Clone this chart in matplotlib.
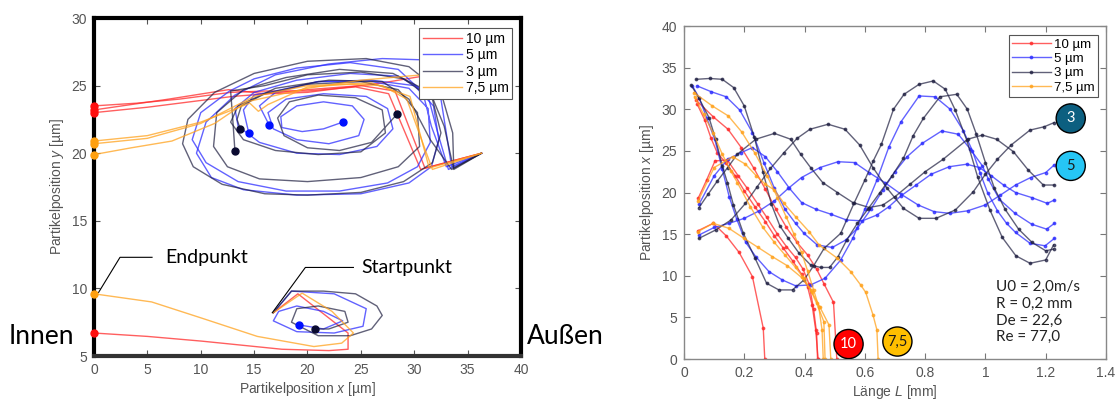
import matplotlib
matplotlib.use("Agg")
import matplotlib.pyplot as plt

plt.rcParams['font.family'] = ['Liberation Sans', 'DejaVu Sans']
plt.rcParams['mathtext.fontset'] = 'custom'
plt.rcParams['mathtext.it'] = 'Liberation Sans:italic'
plt.rcParams['mathtext.rm'] = 'Liberation Sans'

# ---------------- linke Grafik: Querschnitt (x, y) ----------------
# 10 µm (rot)
lr1_x = [36.3, 30.6, 27.6, 24.5, 20.0, 16.1, 12.8, 8.0, 4.0, 0.0]
lr1_y = [20.0, 18.8, 24.4, 24.9, 24.6, 24.6, 24.5, 24.0, 23.7, 23.5]
lr2_x = [36.3, 31.0, 28.2, 25.0, 20.0, 16.0, 12.6, 7.0, 0.0]
lr2_y = [20.0, 18.9, 24.6, 25.0, 24.7, 24.4, 24.7, 24.0, 23.2]
lr3_x = [34.5, 30.8, 27.0, 24.0, 20.0, 16.3, 13.0, 9.0, 5.0, 0.0]
lr3_y = [25.8, 25.7, 25.2, 24.9, 24.5, 24.4, 24.2, 23.8, 23.4, 23.0]
lr4_x = [16.8, 19.1, 23.8, 23.8, 22.0, 17.6, 10.1, 5.0, 0.0]
lr4_y = [8.2, 9.6, 6.7, 5.5, 5.4, 5.5, 6.1, 6.45, 6.7]

# 7,5 µm (orange)
lo1_x = [36.3, 31.7, 29.3, 27.0, 24.0, 20.0, 16.3, 15.4, 14.6, 10.0, 5.0, 0.0]
lo1_y = [20.0, 18.8, 24.0, 25.0, 25.1, 24.9, 23.6, 23.1, 23.7, 22.3, 21.3, 20.9]
lo2_x = [36.3, 31.4, 29.6, 26.0, 20.0, 15.0, 10.0, 5.0, 0.0]
lo2_y = [20.0, 18.9, 24.2, 25.2, 25.0, 24.2, 22.2, 21.1, 20.7]
lo3_x = [34.5, 30.8, 25.0, 20.0, 14.3, 11.3, 7.3, 3.5, 0.0]
lo3_y = [25.9, 25.8, 25.4, 24.8, 23.8, 22.2, 20.9, 20.4, 19.9]
lo4_x = [16.8, 19.5, 22.3, 24.3, 23.2, 20.6, 15.3, 10.1, 5.4, 0.0]
lo4_y = [8.2, 9.65, 8.3, 6.7, 5.95, 5.7, 6.45, 7.8, 9.0, 9.6]

# 3 µm (dunkel)
ld1_x = [36.3, 33.7, 33.6, 32.5, 29.5, 25.5, 20.0, 15.0, 11.3, 8.8, 8.3, 9.3, 12.0, 16.0, 20.0, 25.0,
         29.0, 31.7, 32.5, 31.7, 29.0, 25.0, 20.0, 16.0, 12.8, 13.0, 13.2]
ld1_y = [20.0, 18.9, 21.5, 24.5, 26.4, 27.0, 26.8, 25.9, 24.5, 22.5, 20.7, 19.0, 17.7, 17.0, 16.9, 17.1,
         17.9, 19.3, 21.5, 24.0, 25.5, 26.0, 25.8, 25.0, 24.6, 22.5, 20.2]
ld2_x = [36.3, 33.7, 32.8, 31.5, 28.0, 23.0, 18.0, 14.0, 11.5, 11.2, 12.5, 15.5, 20.0, 25.0, 28.5,
         30.5, 30.3, 28.5, 25.0, 20.0, 16.0, 13.8, 13.4, 13.7]
ld2_y = [20.0, 18.8, 22.0, 24.5, 25.9, 26.2, 25.6, 24.7, 23.0, 20.5, 19.0, 18.1, 17.9, 18.2, 19.0,
         20.5, 23.0, 24.7, 25.3, 25.1, 24.4, 23.5, 22.5, 21.8]
ld3_x = [36.3, 33.5, 31.5, 29.5, 27.0, 22.0, 17.0, 13.5, 12.8, 14.0, 17.0, 21.0, 25.0, 27.3, 27.0,
         24.5, 21.0, 18.3, 17.2, 17.8, 20.0, 23.0, 26.0, 28.4]
ld3_y = [20.0, 18.8, 21.0, 24.0, 25.3, 25.4, 24.8, 23.5, 22.3, 21.0, 20.2, 19.9, 20.1, 21.5, 23.2,
         24.1, 24.3, 23.8, 22.6, 21.3, 20.4, 20.2, 20.8, 22.9]
ld4_x = [16.8, 18.5, 21.5, 24.5, 26.5, 27.0, 26.0, 24.0, 21.0, 18.5, 19.0, 21.0, 23.5, 23.8, 22.0, 20.7]
ld4_y = [8.2, 9.8, 9.8, 9.6, 8.7, 8.0, 7.0, 6.5, 6.5, 7.5, 8.5, 8.7, 8.3, 7.5, 7.0, 7.0]

# 5 µm (blau)
lb1_x = [36.3, 33.2, 32.2, 31.2, 28.5, 24.0, 19.0, 15.0, 13.2, 13.5, 15.5, 19.0, 23.0, 26.5, 28.0,
         27.5, 25.5, 21.5, 18.0, 16.3, 16.8, 19.0, 22.0, 24.8, 25.3, 24.2, 21.5, 19.0, 17.5, 17.6,
         19.5, 21.5, 23.3]
lb1_y = [20.0, 18.8, 21.5, 24.5, 25.7, 25.9, 25.4, 24.5, 23.3, 22.0, 20.8, 20.0, 19.9, 20.5, 21.8,
         23.3, 24.2, 24.4, 24.0, 23.0, 21.8, 21.0, 20.7, 21.3, 22.5, 23.5, 23.8, 23.5, 22.7, 21.9,
         21.6, 21.8, 22.3]
lb2_x = [36.3, 33.0, 31.6, 30.8, 28.5, 24.0, 19.0, 15.0, 12.7, 10.0, 9.2, 10.5, 13.5, 18.0, 23.0,
         27.5, 30.3, 31.5, 31.3, 29.5, 26.0, 21.0, 17.0, 15.5, 16.4]
lb2_y = [20.0, 19.0, 22.0, 24.5, 26.2, 26.7, 26.3, 25.5, 24.6, 23.0, 21.0, 19.3, 17.9, 17.2, 17.2,
         17.8, 19.0, 20.8, 23.3, 24.8, 25.3, 25.3, 24.5, 23.5, 22.1]
lb3_x = [36.3, 33.5, 33.0, 32.4, 31.0, 27.0, 22.0, 17.0, 13.2, 10.5, 9.6, 11.0, 14.0, 19.0, 25.0,
         29.5, 31.6, 32.3, 31.8, 30.0, 26.0, 21.0, 17.0, 15.0, 14.0, 14.5]
lb3_y = [20.0, 19.0, 21.5, 24.5, 26.9, 27.0, 26.6, 25.8, 24.3, 22.3, 20.0, 18.2, 17.3, 16.9, 17.0,
         17.8, 19.0, 21.0, 23.5, 25.0, 25.4, 25.3, 24.6, 24.3, 23.2, 21.5]
lb4_x = [16.8, 18.5, 22.5, 25.5, 25.2, 22.5, 19.0, 16.8, 17.3, 19.0, 21.5, 23.3, 21.5, 19.2]
lb4_y = [8.2, 9.8, 9.6, 8.5, 7.2, 6.7, 6.8, 7.6, 8.3, 8.7, 8.3, 7.6, 7.0, 7.3]

# Endpunkte
end_red_x = [0, 0, 0, 0]
end_red_y = [23.5, 23.2, 23.0, 6.7]
end_orange_x = [0, 0, 0, 0]
end_orange_y = [20.9, 20.7, 19.9, 9.6]
end_dark_x = [13.7, 13.2, 28.4, 20.7]
end_dark_y = [21.8, 20.2, 22.9, 7.0]
end_blue_x = [14.5, 16.4, 23.3, 19.2]
end_blue_y = [21.5, 22.1, 22.3, 7.3]

# ---------------- rechte Grafik: x über L ----------------
r1_L = [0.04, 0.097, 0.146, 0.19, 0.232, 0.27, 0.305, 0.34, 0.375, 0.41, 0.44, 0.465, 0.496, 0.507]
r1_x = [31.1, 29.1, 27.6, 25.4, 22.9, 20.4, 18.0, 15.8, 14.0, 12.5, 10.8, 9.0, 6.8, 0.0]
r2_L = [0.044, 0.069, 0.09, 0.11, 0.14, 0.17, 0.2, 0.235, 0.27, 0.3, 0.33, 0.36, 0.39, 0.41, 0.425, 0.437, 0.445]
r2_x = [30.6, 28.7, 26.5, 24.8, 23.5, 22.0, 20.2, 18.3, 16.5, 14.8, 13.3, 11.8, 10.2, 8.7, 6.5, 3.5, 0.0]
r3_L = [0.047, 0.075, 0.103, 0.144, 0.18, 0.21, 0.245, 0.275, 0.31, 0.34, 0.37, 0.395, 0.415, 0.43, 0.44, 0.443]
r3_x = [19.3, 21.5, 23.8, 23.9, 22.0, 20.5, 18.6, 17.0, 15.0, 13.5, 12.2, 10.8, 9.0, 6.0, 3.1, 0.0]
r4_L = [0.046, 0.097, 0.14, 0.183, 0.227, 0.263, 0.268]
r4_x = [15.4, 16.3, 14.8, 12.8, 9.9, 3.7, 0.0]

o1_L = [0.033, 0.094, 0.147, 0.191, 0.234, 0.276, 0.31, 0.34, 0.365, 0.39, 0.41, 0.43, 0.447, 0.458, 0.462]
o1_x = [32.0, 30.4, 29.2, 27.3, 24.8, 22.0, 19.4, 17.0, 15.0, 12.8, 10.6, 8.3, 6.3, 3.5, 0.0]
o2_L = [0.035, 0.065, 0.096, 0.127, 0.155, 0.177, 0.22, 0.262, 0.3, 0.335, 0.37, 0.398, 0.425, 0.45, 0.481, 0.487]
o2_x = [31.5, 29.4, 27.2, 24.6, 22.6, 21.2, 18.3, 15.8, 14.0, 12.5, 11.0, 9.7, 8.0, 6.3, 4.1, 0.0]
o3_L = [0.047, 0.1, 0.162, 0.204, 0.24, 0.27, 0.3, 0.332, 0.37, 0.415, 0.448, 0.509, 0.553, 0.586, 0.603, 0.627, 0.64, 0.644]
o3_x = [19.0, 23.0, 24.3, 23.4, 22.0, 21.0, 20.3, 18.7, 17.1, 15.3, 13.7, 12.1, 10.5, 8.9, 8.0, 5.3, 3.5, 0.0]
o4_L = [0.046, 0.097, 0.149, 0.199, 0.246, 0.293, 0.343, 0.39, 0.42, 0.44, 0.464, 0.468]
o4_x = [15.3, 16.3, 15.7, 14.5, 13.4, 12.3, 11.2, 9.8, 8.3, 6.7, 4.5, 0.0]

b1_L = [0.044, 0.091, 0.14, 0.185, 0.227, 0.265, 0.3, 0.335, 0.37, 0.398, 0.442, 0.492, 0.537, 0.575,
        0.62, 0.66, 0.7, 0.74, 0.79, 0.855, 0.91, 0.95, 0.99, 1.01, 1.046, 1.098, 1.153, 1.203, 1.229]
b1_x = [32.8, 32.1, 31.5, 29.9, 27.2, 23.6, 20.5, 18.0, 16.3, 15.1, 13.7, 13.4, 14.3, 15.7,
        18.0, 20.3, 22.5, 24.3, 25.9, 27.4, 27.0, 25.2, 23.2, 21.6, 19.2, 17.5, 16.2, 15.6, 16.3]
b2_L = [0.028, 0.05, 0.075, 0.102, 0.127, 0.15, 0.175, 0.205, 0.238, 0.282, 0.326, 0.37, 0.42, 0.468,
        0.52, 0.56, 0.6, 0.64, 0.68, 0.72, 0.78, 0.833, 0.883, 0.927, 0.957, 0.982, 1.007, 1.04, 1.07,
        1.1, 1.148, 1.198, 1.229]
b2_x = [32.8, 31.4, 29.0, 26.4, 22.8, 19.5, 16.8, 14.0, 12.3, 10.5, 9.5, 8.8, 8.9, 9.7,
        11.9, 14.5, 18.0, 21.5, 25.5, 28.5, 31.6, 31.5, 30.0, 27.4, 25.0, 22.4, 20.0, 17.8, 16.3,
        15.2, 13.9, 13.6, 14.5]
b3_L = [0.05, 0.1, 0.145, 0.19, 0.227, 0.27, 0.31, 0.35, 0.39, 0.437, 0.487, 0.539, 0.592, 0.64, 0.68,
        0.72, 0.77, 0.82, 0.88, 0.938, 0.98, 1.02, 1.06, 1.1, 1.153, 1.205, 1.229]
b3_x = [18.6, 22.0, 24.0, 24.8, 25.4, 24.3, 22.5, 20.5, 18.8, 18.0, 17.4, 16.7, 16.6, 17.3, 18.3,
        19.6, 20.9, 22.2, 23.1, 23.4, 23.0, 22.0, 20.9, 20.0, 19.4, 18.7, 19.1]
b4_L = [0.05, 0.1, 0.15, 0.2, 0.25, 0.3, 0.346, 0.39, 0.451, 0.511, 0.566, 0.614, 0.666, 0.72, 0.777,
        0.83, 0.882, 0.941, 0.999, 1.05, 1.1, 1.15, 1.2, 1.228]
b4_x = [14.9, 15.8, 16.3, 16.9, 17.8, 19.0, 20.5, 21.8, 23.0, 23.7, 23.6, 22.4, 21.2, 19.8, 18.5,
        17.7, 17.5, 17.8, 18.5, 19.7, 20.9, 21.8, 22.4, 23.3]

d1_L = [0.041, 0.085, 0.127, 0.165, 0.2, 0.233, 0.262, 0.29, 0.318, 0.346, 0.382, 0.42, 0.453, 0.483,
        0.511, 0.54, 0.575, 0.61, 0.65, 0.69, 0.728, 0.76, 0.794, 0.849, 0.905, 0.94, 0.97, 1.0, 1.03,
        1.065, 1.11, 1.155, 1.2, 1.226]
d1_x = [33.6, 33.7, 33.6, 32.6, 30.4, 26.7, 22.5, 18.6, 16.0, 14.5, 12.7, 11.3, 11.0, 11.0,
        12.3, 14.3, 16.3, 18.0, 20.0, 22.0, 24.1, 26.8, 28.9, 31.5, 31.8, 30.0, 27.0, 23.6, 20.5,
        18.0, 15.6, 14.0, 13.0, 13.2]
d2_L = [0.024, 0.05, 0.083, 0.105, 0.127, 0.144, 0.164, 0.197, 0.236, 0.274, 0.315, 0.36, 0.398, 0.43,
        0.465, 0.52, 0.564, 0.6, 0.628, 0.655, 0.695, 0.73, 0.78, 0.827, 0.867, 0.9, 0.938, 0.974,
        1.015, 1.056, 1.101, 1.148, 1.2, 1.226]
d2_x = [32.9, 31.3, 29.0, 26.4, 23.2, 21.2, 18.5, 15.1, 12.1, 9.1, 8.3, 8.3, 9.5, 11.2,
        13.3, 15.1, 18.7, 21.5, 23.8, 25.8, 30.0, 31.8, 33.0, 33.4, 32.4, 29.9, 26.3, 21.9,
        17.9, 14.6, 12.4, 11.5, 11.9, 13.7]
d3_L = [0.05, 0.08, 0.111, 0.145, 0.177, 0.238, 0.3, 0.354, 0.387, 0.42, 0.46, 0.509, 0.56, 0.614,
        0.66, 0.7, 0.75, 0.8, 0.86, 0.941, 0.99, 1.037, 1.093, 1.142, 1.192, 1.229]
d3_x = [18.2, 19.8, 21.4, 23.0, 24.6, 26.4, 27.1, 26.4, 24.6, 23.0, 21.2, 20.0, 18.8, 18.2,
        18.5, 19.5, 21.0, 22.5, 24.0, 26.4, 26.9, 26.4, 24.9, 22.7, 20.9, 20.9]
d4_L = [0.05, 0.105, 0.156, 0.204, 0.243, 0.287, 0.332, 0.375, 0.418, 0.478, 0.534, 0.583, 0.627, 0.672,
        0.728, 0.78, 0.836, 0.9, 0.96, 1.0, 1.04, 1.085, 1.148, 1.195, 1.228]
d4_x = [14.5, 15.5, 16.7, 18.7, 20.7, 22.9, 24.8, 26.5, 27.6, 28.2, 27.6, 25.7, 23.0, 20.6,
        18.1, 16.9, 16.9, 17.9, 20.1, 22.2, 24.0, 25.7, 27.5, 27.9, 28.4]

# Kreise mit Partikelgrößen
bubble_text = ['3', '5', '10', '7,5']
bubble_L = [1.283, 1.283, 0.546, 0.708]
bubble_x = [28.9, 23.2, 1.8, 2.1]

RED = '#ff2a2a'
BLUE = '#2e2eff'
DARK = '#1e1e40'
ORANGE = '#ffa21c'

fig = plt.figure(figsize=(11.2, 4.01), dpi=100)

# ---- links ----
ax1 = fig.add_axes([0.0839, 0.1122, 0.3813, 0.8429])
lw, al = 1.0, 0.75
ax1.plot(lr1_x, lr1_y, color=RED, lw=lw, alpha=al, label='10 µm')
for xs, ys in [(lr2_x, lr2_y), (lr3_x, lr3_y), (lr4_x, lr4_y)]:
    ax1.plot(xs, ys, color=RED, lw=lw, alpha=al)
ax1.plot(lb1_x, lb1_y, color=BLUE, lw=lw, alpha=al, label='5 µm')
for xs, ys in [(lb2_x, lb2_y), (lb3_x, lb3_y), (lb4_x, lb4_y)]:
    ax1.plot(xs, ys, color=BLUE, lw=lw, alpha=al)
ax1.plot(ld1_x, ld1_y, color=DARK, lw=lw, alpha=0.7, label='3 µm')
for xs, ys in [(ld2_x, ld2_y), (ld3_x, ld3_y), (ld4_x, ld4_y)]:
    ax1.plot(xs, ys, color=DARK, lw=lw, alpha=0.7)
ax1.plot(lo1_x, lo1_y, color=ORANGE, lw=lw, alpha=al, label='7,5 µm')
for xs, ys in [(lo2_x, lo2_y), (lo3_x, lo3_y), (lo4_x, lo4_y)]:
    ax1.plot(xs, ys, color=ORANGE, lw=lw, alpha=al)

ax1.plot(end_red_x, end_red_y, 'o', color='#ff1010', ms=5, clip_on=False, zorder=5)
ax1.plot(end_orange_x, end_orange_y, 'o', color='#ffa010', ms=5, clip_on=False, zorder=5)
ax1.plot(end_dark_x, end_dark_y, 'o', color='#0a0a30', ms=5, zorder=5)
ax1.plot(end_blue_x, end_blue_y, 'o', color='#0010ff', ms=5, zorder=5)

ax1.set_xlim(0, 40)
ax1.set_ylim(5, 30)
ax1.set_xticks(range(0, 41, 5))
ax1.set_yticks(range(5, 31, 5))
ax1.tick_params(direction='in', top=True, right=True, length=4, labelsize=10,
                labelcolor='#555555', color='#555555', pad=5)
for side in ['left', 'top', 'right']:
    ax1.spines[side].set_linewidth(3)
    ax1.spines[side].set_color('black')
ax1.spines['bottom'].set_linewidth(3)
ax1.spines['bottom'].set_color('#333333')
ax1.set_xlabel('Partikelposition $x$ [µm]', fontsize=10, color='#555555', labelpad=2)
ax1.set_ylabel('Partikelposition $y$ [µm]', fontsize=10, color='#555555', labelpad=4)
leg1 = ax1.legend(loc='upper right', bbox_to_anchor=(0.979, 0.97), fontsize=10, fancybox=False,
                  edgecolor='#555555', framealpha=1, handlelength=2.8, labelspacing=0.18,
                  borderpad=0.25, handletextpad=0.3, borderaxespad=0)
leg1.set_zorder(10)
leg1.get_frame().set_linewidth(0.8)

# Beschriftungen Endpunkt / Startpunkt
ax1.plot([0.43, 2.44, 5.44], [9.7, 12.3, 12.3], color='black', lw=0.8)
ax1.text(6.7, 12.3, 'Endpunkt', fontsize=14, family=['Lato', 'DejaVu Sans'], va='center', ha='left')
ax1.plot([16.7, 19.8, 24.3], [8.2, 11.55, 11.55], color='black', lw=0.8)
ax1.text(25.0, 11.55, 'Startpunkt', fontsize=14, family=['Lato', 'DejaVu Sans'], va='center', ha='left')
fig.text(0.008, 0.16, 'Innen', fontsize=19, family=['Lato', 'DejaVu Sans'], va='center', ha='left')
fig.text(0.4705, 0.16, 'Außen', fontsize=19, family=['Lato', 'DejaVu Sans'], va='center', ha='left')

# ---- rechts ----
ax2 = fig.add_axes([0.6107, 0.1047, 0.3768, 0.8304])
kw = dict(lw=1.0, marker='.', ms=3.5)
ax2.plot(r1_L, r1_x, color=RED, alpha=0.75, label='10 µm', **kw)
for xs, ys in [(r2_L, r2_x), (r3_L, r3_x), (r4_L, r4_x)]:
    ax2.plot(xs, ys, color=RED, alpha=0.75, **kw)
ax2.plot(b1_L, b1_x, color=BLUE, alpha=0.75, label='5 µm', **kw)
for xs, ys in [(b2_L, b2_x), (b3_L, b3_x), (b4_L, b4_x)]:
    ax2.plot(xs, ys, color=BLUE, alpha=0.75, **kw)
ax2.plot(d1_L, d1_x, color=DARK, alpha=0.7, label='3 µm', **kw)
for xs, ys in [(d2_L, d2_x), (d3_L, d3_x), (d4_L, d4_x)]:
    ax2.plot(xs, ys, color=DARK, alpha=0.7, **kw)
ax2.plot(o1_L, o1_x, color=ORANGE, alpha=0.75, label='7,5 µm', **kw)
for xs, ys in [(o2_L, o2_x), (o3_L, o3_x), (o4_L, o4_x)]:
    ax2.plot(xs, ys, color=ORANGE, alpha=0.75, **kw)

ax2.set_xlim(0, 1.4)
ax2.set_ylim(0, 40)
ax2.set_xticks([0, 0.2, 0.4, 0.6, 0.8, 1.0, 1.2, 1.4])
ax2.set_xticklabels(['0', '0.2', '0.4', '0.6', '0.8', '1', '1.2', '1.4'])
ax2.set_yticks(range(0, 41, 5))
ax2.tick_params(direction='in', top=True, right=True, length=4, labelsize=10,
                labelcolor='#555555', color='#777777', pad=5)
for side in ax2.spines:
    ax2.spines[side].set_color('#888888')
    ax2.spines[side].set_linewidth(1.0)
ax2.set_xlabel('Länge $L$ [mm]', fontsize=10, color='#555555', labelpad=2)
ax2.set_ylabel('Partikelposition $x$ [µm]', fontsize=10, color='#555555', labelpad=4)
leg2 = ax2.legend(loc='upper right', bbox_to_anchor=(0.982, 0.972), fontsize=9.5, fancybox=False,
                  edgecolor='#555555', framealpha=1, handlelength=2.9, labelspacing=0.15,
                  borderpad=0.25, handletextpad=0.3, borderaxespad=0)
leg2.get_frame().set_linewidth(0.8)

bubble_face = ['#0c5f80', '#26c6f5', '#ff0000', '#ffbf00']
bubble_tc = ['white', '#1a1a1a', 'white', '#1a1a1a']
ax2.scatter(bubble_L, bubble_x, s=440, c=bubble_face, edgecolors='black', linewidths=1, zorder=6)
for t, L, xv, tc in zip(bubble_text, bubble_L, bubble_x, bubble_tc):
    ax2.text(L, xv, t, color=tc, fontsize=10.5, ha='center', va='center', zorder=7,
             family=['Lato', 'DejaVu Sans'])

ax2.text(1.035, 9.5, 'U0 = 2,0m/s\nR = 0,2 mm\nDe = 22,6\nRe = 77,0', fontsize=11,
         family=['Lato', 'DejaVu Sans'], va='top', ha='left', linespacing=1.25, color='#222222')

fig.savefig('out.png', dpi=100)
